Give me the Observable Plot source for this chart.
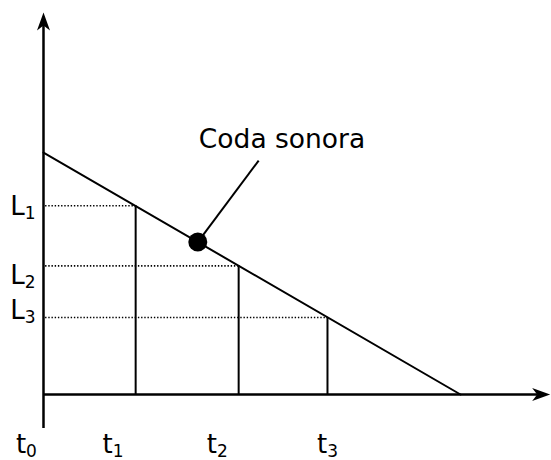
<!DOCTYPE html>
<html>
<head>
<meta charset="utf-8">
<script src="https://cdn.jsdelivr.net/npm/d3@7"></script>
<script src="https://cdn.jsdelivr.net/npm/@observablehq/plot@0.6"></script>
<style>
  html, body { margin: 0; padding: 0; background: #fff; overflow: hidden; }
</style>
</head>
<body>
<div id="chart"></div>
<script>
// ---- data ----
const decayTime = [0, 10];          // straight-line decay: start and end time
const decayLevel = [60, 0];         // level at start and at end
const tNames = ["t_0", "t_1", "t_2", "t_3"];
const tLabelAt = [-0.41, 1.67, 4.17, 6.81];   // where each t label sits along the time axis
const tMarks = [2.21, 4.68, 6.81];            // t1, t2, t3
const levelNames = ["L_1", "L_2", "L_3"];
const levels = [46.8, 31.9, 19.1];            // L1, L2, L3
const levelLabelAt = [44.6, 27.5, 18.8];      // baseline of each L label
const codaPoint = {t: 3.7, level: 37.8};
const codaLabelTip = {t: 5.16, level: 58.0};
const codaLabel = {t: 5.72, level: 61.2, text: "Coda sonora"};
const axisTime = [0, 12.15];
const axisLevel = [-8.4, 94.7];

// ---- build ----
const decay = decayTime.map((t, i) => ({t, level: decayLevel[i]}));
const drops = tMarks.map((t, i) => ({t, level: levels[i]}));
const tLabels = tNames.map((name, i) => ({name, t: tLabelAt[i]}));
const lLabels = levelNames.map((name, i) => ({name, level: levelLabelAt[i]}));

const arrowUp = {
  draw(ctx) {
    ctx.moveTo(0, 0); ctx.lineTo(6.5, 18); ctx.lineTo(0, 13); ctx.lineTo(-6.5, 18); ctx.closePath();
  }
};
const arrowRight = {
  draw(ctx) {
    ctx.moveTo(0, 0); ctx.lineTo(-18, -6.5); ctx.lineTo(-13, 0); ctx.lineTo(-18, 6.5); ctx.closePath();
  }
};

const font = "DejaVu Sans";
const svg = Plot.plot({
  width: 551,
  height: 460,
  marginLeft: 0, marginRight: 0, marginTop: 0, marginBottom: 0,
  x: {domain: [-1.031, 12.182], axis: null},
  y: {domain: [-16.365, 97.694], axis: null},
  style: {fontFamily: font, background: "white", overflow: "visible"},
  marks: [
    // dotted level guides
    Plot.ruleY(drops, {y: "level", x1: 0.05, x2: "t", stroke: "black", strokeWidth: 1.6, strokeDasharray: "1.4,1.8"}),
    // vertical time markers
    Plot.ruleX(drops, {x: "t", y1: 0, y2: "level", stroke: "black", strokeWidth: 2}),
    // decay line
    Plot.line(decay, {x: "t", y: "level", stroke: "black", strokeWidth: 2}),
    // axes
    Plot.ruleX([0], {y1: axisLevel[0], y2: axisLevel[1] - 2, stroke: "black", strokeWidth: 2.5}),
    Plot.ruleY([0], {x1: axisTime[0], x2: axisTime[1] - 0.3, stroke: "black", strokeWidth: 2.5}),
    Plot.dot([{t: 0, level: axisLevel[1]}], {x: "t", y: "level", symbol: arrowUp, fill: "black", stroke: null, r: 5}),
    Plot.dot([{t: axisTime[1], level: 0}], {x: "t", y: "level", symbol: arrowRight, fill: "black", stroke: null, r: 5}),
    // annotation
    Plot.link([codaPoint], {x1: "t", y1: "level", x2: () => codaLabelTip.t, y2: () => codaLabelTip.level, stroke: "black", strokeWidth: 2}),
    Plot.dot([codaPoint], {x: "t", y: "level", r: 9.5, fill: "black", stroke: null}),
    Plot.text([codaLabel], {x: "t", y: "level", text: "text", textAnchor: "middle", lineAnchor: "bottom", fontSize: 26.5, fill: "black"}),
    // labels with subscripts
    Plot.text(tLabels, {x: "t", y: () => -14.4, text: "name", textAnchor: "middle", lineAnchor: "bottom", fontSize: 26, fill: "black", className: "sub-label"}),
    Plot.text(lLabels, {x: () => -0.19, y: "level", text: "name", textAnchor: "end", lineAnchor: "bottom", fontSize: 26, fill: "black", className: "sub-label"})
  ]
});

const ns = "http://www.w3.org/2000/svg";
for (const t of svg.querySelectorAll("g.sub-label text")) {
  const [base, sub] = t.textContent.split("_");
  while (t.firstChild) t.removeChild(t.firstChild);
  const a = document.createElementNS(ns, "tspan");
  a.textContent = base;
  const b = document.createElementNS(ns, "tspan");
  b.setAttribute("dy", "4.5");
  b.setAttribute("font-size", "17");
  b.textContent = sub;
  t.appendChild(a);
  t.appendChild(b);
}
document.getElementById("chart").appendChild(svg);
</script>
</body>
</html>
